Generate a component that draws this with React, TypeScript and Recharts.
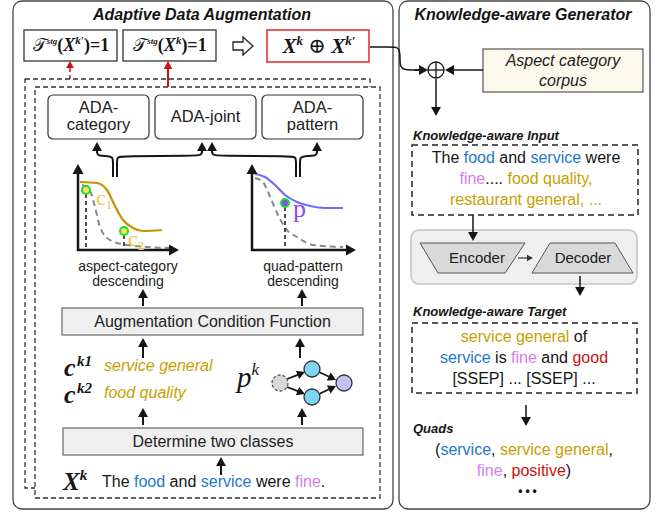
import { ComposedChart, XAxis, YAxis, Line, ReferenceArea, ReferenceLine, ReferenceDot } from "recharts";

const W = 656;
const H = 512;

const SANS = "'Liberation Sans', Arial, sans-serif";
const SERIF = "'Liberation Serif', 'DejaVu Serif', serif";

const INK = "#151515";
const BLUE = "#1f78cc";
const GOLD = "#c79f00";
const PINK = "#d67cf2";
const RED = "#cc1111";

// descending curves of the two mini charts (aspect-category / quad-pattern)
const categoryCurve = [
  { x: 80, y: 182 }, { x: 97, y: 183 }, { x: 107, y: 190 }, { x: 115, y: 206 },
  { x: 123, y: 220 }, { x: 133, y: 228 }, { x: 143, y: 231 }, { x: 162, y: 230 },
];
const categoryBase = [
  { x: 82, y: 185 }, { x: 90, y: 191 }, { x: 95, y: 207 }, { x: 100, y: 227 },
  { x: 110, y: 240 }, { x: 127, y: 245 }, { x: 170, y: 248 },
];
const patternCurve = [
  { x: 255, y: 174 }, { x: 265, y: 177 }, { x: 275, y: 185 }, { x: 285, y: 195 },
  { x: 297, y: 202 }, { x: 310, y: 206 }, { x: 325, y: 208 }, { x: 343, y: 208 },
];
const patternBase = [
  { x: 255, y: 178 }, { x: 263, y: 182 }, { x: 268, y: 192 }, { x: 277, y: 213 },
  { x: 287, y: 230 }, { x: 297, y: 237 }, { x: 313, y: 245 }, { x: 343, y: 247 },
];

// rounded connectors (drawn with a basis curve)
const connectors = [
  [{ x: 113, y: 177 }, { x: 113, y: 163 }, { x: 113, y: 157 }, { x: 108, y: 156 }, { x: 102, y: 156 }, { x: 97, y: 155 }, { x: 97, y: 150 }, { x: 97, y: 146 }],
  [{ x: 117, y: 177 }, { x: 117, y: 163 }, { x: 117, y: 157 }, { x: 122, y: 156 }, { x: 196, y: 156 }, { x: 202, y: 155 }, { x: 202, y: 150 }, { x: 202, y: 146 }],
  [{ x: 296, y: 177 }, { x: 296, y: 163 }, { x: 296, y: 157 }, { x: 291, y: 156 }, { x: 218, y: 156 }, { x: 212, y: 155 }, { x: 212, y: 150 }, { x: 212, y: 146 }],
  [{ x: 300, y: 177 }, { x: 300, y: 163 }, { x: 300, y: 157 }, { x: 305, y: 156 }, { x: 312, y: 156 }, { x: 317, y: 155 }, { x: 317, y: 150 }, { x: 317, y: 146 }],
  [{ x: 370, y: 47 }, { x: 392, y: 47 }, { x: 397, y: 47 }, { x: 400, y: 51 }, { x: 400, y: 60 }, { x: 400, y: 66 }, { x: 404, y: 70 }, { x: 412, y: 70 }, { x: 420, y: 70 }],
];

type Box = {
  x1: number; y1: number; x2: number; y2: number;
  rx?: number; fill?: string; stroke?: string; sw?: number; dash?: string; kind?: "enc" | "dec";
};

const boxes: Box[] = [
  { x1: 13, y1: 1, x2: 393, y2: 509, rx: 9, stroke: "#444", sw: 1.3 },
  { x1: 399, y1: 1, x2: 650, y2: 509, rx: 9, stroke: "#444", sw: 1.3 },
  { x1: 24, y1: 30, x2: 117, y2: 61, stroke: "#333", sw: 1.3 },
  { x1: 123, y1: 30, x2: 216, y2: 61, stroke: "#333", sw: 1.3 },
  { x1: 267, y1: 30, x2: 369, y2: 62, stroke: "#e02828", sw: 1.5 },
  { x1: 25, y1: 79, x2: 370, y2: 488, stroke: "#333", sw: 1.3, dash: "5 3" },
  { x1: 35, y1: 87, x2: 380, y2: 498, fill: "#fff", stroke: "#333", sw: 1.3, dash: "5 3" },
  { x1: 48, y1: 95, x2: 149, y2: 139, rx: 5, stroke: "#333", sw: 1.2 },
  { x1: 155, y1: 95, x2: 256, y2: 139, rx: 5, stroke: "#333", sw: 1.2 },
  { x1: 262, y1: 95, x2: 363, y2: 139, rx: 5, stroke: "#333", sw: 1.2 },
  { x1: 62, y1: 308, x2: 363, y2: 335, fill: "#efefef", stroke: "#666", sw: 1.2 },
  { x1: 63, y1: 428, x2: 363, y2: 455, fill: "#efefef", stroke: "#666", sw: 1.2 },
  { x1: 483, y1: 49, x2: 643, y2: 92, fill: "#fcf9ec", stroke: "#555", sw: 1.2 },
  { x1: 412, y1: 145, x2: 638, y2: 215, stroke: "#222", sw: 1.5, dash: "6 4" },
  { x1: 411, y1: 230, x2: 637, y2: 284, rx: 8, fill: "#efefef", stroke: "#c4c4c4", sw: 1.5 },
  { x1: 420, y1: 243, x2: 525, y2: 273, fill: "#d9d9d9", stroke: "#555", sw: 1, kind: "enc" },
  { x1: 532, y1: 243, x2: 633, y2: 273, fill: "#d9d9d9", stroke: "#555", sw: 1, kind: "dec" },
  { x1: 412, y1: 323, x2: 637, y2: 393, stroke: "#222", sw: 1.5, dash: "6 4" },
];

type Arrow = { x1: number; y1: number; x2: number; y2: number; c?: string; w?: number; head?: number; dash?: string };

const arrows: Arrow[] = [
  { x1: 70, y1: 79, x2: 70, y2: 61, c: RED, w: 1.5, head: 7, dash: "4 3" },
  { x1: 168, y1: 87, x2: 168, y2: 61, c: RED, w: 2, head: 8 },
  { x1: 97, y1: 153, x2: 97, y2: 142 },
  { x1: 202, y1: 153, x2: 202, y2: 142 },
  { x1: 212, y1: 153, x2: 212, y2: 142 },
  { x1: 317, y1: 153, x2: 317, y2: 142 },
  { x1: 78, y1: 251, x2: 78, y2: 164, w: 2.5, head: 10 },
  { x1: 77, y1: 250, x2: 179, y2: 250, w: 2.5, head: 10 },
  { x1: 252, y1: 251, x2: 252, y2: 164, w: 2.5, head: 10 },
  { x1: 251, y1: 250, x2: 356, y2: 250, w: 2.5, head: 10 },
  { x1: 143, y1: 306, x2: 143, y2: 289 },
  { x1: 302, y1: 306, x2: 302, y2: 289 },
  { x1: 143, y1: 358, x2: 143, y2: 338 },
  { x1: 300, y1: 358, x2: 300, y2: 338 },
  { x1: 143, y1: 425, x2: 143, y2: 408 },
  { x1: 302, y1: 425, x2: 302, y2: 408 },
  { x1: 221, y1: 475, x2: 221, y2: 457 },
  { x1: 287, y1: 379, x2: 305, y2: 372, w: 1.8, head: 8 },
  { x1: 287, y1: 387, x2: 305, y2: 394, w: 1.8, head: 8 },
  { x1: 319, y1: 372, x2: 336, y2: 380, w: 1.8, head: 8 },
  { x1: 319, y1: 394, x2: 336, y2: 386, w: 1.8, head: 8 },
  { x1: 414, y1: 70, x2: 428, y2: 70, w: 1.5 },
  { x1: 483, y1: 70, x2: 445, y2: 70, w: 1.5 },
  { x1: 436, y1: 79, x2: 436, y2: 116, w: 1.5 },
  { x1: 473, y1: 215, x2: 473, y2: 241, w: 1.5 },
  { x1: 518, y1: 258, x2: 533, y2: 258, w: 1.2, head: 6, c: "#333" },
  { x1: 580, y1: 276, x2: 580, y2: 296, w: 1.5 },
  { x1: 526, y1: 405, x2: 526, y2: 426, w: 1.5 },
  // dashed drop lines (no head)
  { x1: 86, y1: 194, x2: 86, y2: 250, w: 1.5, head: 0, dash: "4 3" },
  { x1: 124, y1: 235, x2: 124, y2: 250, w: 1.5, head: 0, dash: "4 3" },
  { x1: 285, y1: 207, x2: 285, y2: 250, w: 1.5, head: 0, dash: "4 3" },
];

type Dot = { x: number; y: number; r: number; fill: string; stroke: string; sw?: number; dash?: string };

const dots: Dot[] = [
  { x: 86, y: 190, r: 4, fill: "#f2e56a", stroke: "#22dd22", sw: 2 },
  { x: 124, y: 231, r: 4, fill: "#f2e56a", stroke: "#22dd22", sw: 2 },
  { x: 285, y: 203, r: 4, fill: "#8050ee", stroke: "#22dd22", sw: 2 },
  { x: 280, y: 383, r: 8, fill: "#d8d8d8", stroke: "#555", sw: 1.3, dash: "3 2" },
  { x: 312, y: 369, r: 8, fill: "#7fd5f3", stroke: "#333", sw: 1.3 },
  { x: 312, y: 397, r: 8, fill: "#7fd5f3", stroke: "#333", sw: 1.3 },
  { x: 344, y: 383, r: 8, fill: "#c2c2f8", stroke: "#333", sw: 1.3 },
];

type Run = { t: string; c?: string; size?: number; rise?: number; it?: boolean; b?: boolean; f?: string };
type Label = { x: number; y: number; size: number; runs: Run[]; anchor?: "start" | "middle" | "end"; it?: boolean; b?: boolean; f?: string; c?: string; ls?: number };

const labels: Label[] = [
  { x: 202, y: 20, size: 16, b: true, it: true, anchor: "middle", runs: [{ t: "Adaptive Data Augmentation" }] },
  { x: 523, y: 20, size: 16, b: true, it: true, anchor: "middle", runs: [{ t: "Knowledge-aware Generator" }] },
  {
    x: 71, y: 51, size: 18, f: SERIF, b: true, anchor: "middle",
    runs: [{ t: "𝒯", b: false }, { t: "stg", size: 9, rise: 7, it: true }, { t: "(", rise: 0 }, { t: "X", it: true }, { t: "k′", it: true, size: 11, rise: 7 }, { t: ")=1", rise: 0 }],
  },
  {
    x: 170, y: 51, size: 18, f: SERIF, b: true, anchor: "middle",
    runs: [{ t: "𝒯", b: false }, { t: "stg", size: 9, rise: 7, it: true }, { t: "(", rise: 0 }, { t: "X", it: true }, { t: "k", it: true, size: 11, rise: 7 }, { t: ")=1", rise: 0 }],
  },
  {
    x: 319, y: 53, size: 21, f: SERIF, b: true, anchor: "middle",
    runs: [{ t: "X", it: true }, { t: "k", it: true, size: 13, rise: 8 }, { t: " ⊕ ", rise: 0, b: false }, { t: "X", it: true }, { t: "k′", it: true, size: 13, rise: 8 }],
  },
  { x: 98.5, y: 113, size: 16.5, anchor: "middle", c: "#222", runs: [{ t: "ADA-" }] },
  { x: 98.5, y: 130, size: 16.5, anchor: "middle", c: "#222", runs: [{ t: "category" }] },
  { x: 205.5, y: 122, size: 16.5, anchor: "middle", c: "#222", runs: [{ t: "ADA-joint" }] },
  { x: 312.5, y: 113, size: 16.5, anchor: "middle", c: "#222", runs: [{ t: "ADA-" }] },
  { x: 312.5, y: 130, size: 16.5, anchor: "middle", c: "#222", runs: [{ t: "pattern" }] },
  { x: 96, y: 205, size: 22, f: SERIF, c: "#f5c640", runs: [{ t: "c" }, { t: "1", size: 13, rise: -4 }] },
  { x: 128, y: 246, size: 22, f: SERIF, c: "#f5c640", runs: [{ t: "c" }, { t: "2", size: 13, rise: -4 }] },
  { x: 293, y: 217, size: 26, f: SERIF, c: "#8a4cf0", runs: [{ t: "p" }] },
  { x: 128, y: 271, size: 14, anchor: "middle", c: "#222", runs: [{ t: "aspect-category" }] },
  { x: 128, y: 286, size: 14, anchor: "middle", c: "#222", runs: [{ t: "descending" }] },
  { x: 303, y: 271, size: 14, anchor: "middle", c: "#222", runs: [{ t: "quad-pattern" }] },
  { x: 303, y: 286, size: 14, anchor: "middle", c: "#222", runs: [{ t: "descending" }] },
  { x: 212.5, y: 327, size: 16, anchor: "middle", c: "#222", runs: [{ t: "Augmentation Condition Function" }] },
  { x: 64, y: 376, size: 26, f: SERIF, it: true, b: true, runs: [{ t: "c" }] },
  { x: 77, y: 366, size: 15, f: SERIF, it: true, b: true, runs: [{ t: "k1" }] },
  { x: 64, y: 403, size: 26, f: SERIF, it: true, b: true, runs: [{ t: "c" }] },
  { x: 77, y: 393, size: 15, f: SERIF, it: true, b: true, runs: [{ t: "k2" }] },
  { x: 104, y: 371, size: 16, it: true, c: GOLD, runs: [{ t: "service general" }] },
  { x: 104, y: 398, size: 16, it: true, c: GOLD, runs: [{ t: "food quality" }] },
  { x: 237, y: 387, size: 29, f: SERIF, it: true, runs: [{ t: "p" }, { t: "k", size: 17, rise: 12 }] },
  { x: 213, y: 447, size: 16, anchor: "middle", c: "#222", runs: [{ t: "Determine two classes" }] },
  { x: 63, y: 490, size: 25, f: SERIF, it: true, b: true, runs: [{ t: "X" }, { t: "k", size: 15, rise: 10 }] },
  {
    x: 102, y: 487, size: 16,
    runs: [{ t: "The " }, { t: "food", c: BLUE }, { t: " and " }, { t: "service", c: BLUE }, { t: " were " }, { t: "fine", c: PINK }, { t: "." }],
  },
  { x: 563, y: 66, size: 16, it: true, anchor: "middle", c: "#222", runs: [{ t: "Aspect category" }] },
  { x: 563, y: 86, size: 16, it: true, anchor: "middle", c: "#222", runs: [{ t: "corpus" }] },
  { x: 413, y: 140, size: 13, b: true, it: true, runs: [{ t: "Knowledge-aware Input" }] },
  {
    x: 526, y: 163, size: 16, anchor: "middle",
    runs: [{ t: "The " }, { t: "food", c: BLUE }, { t: " and " }, { t: "service", c: BLUE }, { t: " were" }],
  },
  { x: 526, y: 184, size: 16, anchor: "middle", runs: [{ t: "fine", c: PINK }, { t: "...." }, { t: " food quality,", c: GOLD }] },
  { x: 526, y: 205, size: 16, anchor: "middle", c: GOLD, runs: [{ t: "restaurant general, ..." }] },
  { x: 477, y: 263, size: 15, anchor: "middle", c: "#222", runs: [{ t: "Encoder" }] },
  { x: 583, y: 263, size: 15, anchor: "middle", c: "#222", runs: [{ t: "Decoder" }] },
  { x: 413, y: 316, size: 13, b: true, it: true, runs: [{ t: "Knowledge-aware Target" }] },
  { x: 524, y: 342, size: 16, anchor: "middle", runs: [{ t: "service general", c: GOLD }, { t: " of" }] },
  {
    x: 524, y: 363, size: 16, anchor: "middle",
    runs: [{ t: "service", c: BLUE }, { t: " is " }, { t: "fine", c: PINK }, { t: " and " }, { t: "good", c: RED }],
  },
  { x: 524, y: 384, size: 16, anchor: "middle", runs: [{ t: "[SSEP] ... [SSEP] ..." }] },
  { x: 413, y: 433, size: 13, b: true, it: true, runs: [{ t: "Quads" }] },
  {
    x: 524, y: 455, size: 16, anchor: "middle",
    runs: [{ t: "(" }, { t: "service", c: BLUE }, { t: ", " }, { t: "service general", c: GOLD }, { t: "," }],
  },
  { x: 524, y: 476, size: 16, anchor: "middle", runs: [{ t: "fine", c: PINK }, { t: ", " }, { t: "positive", c: RED }, { t: ")" }] },
  { x: 529, y: 495, size: 12, b: true, anchor: "middle", ls: 3, runs: [{ t: "•••" }] },
];

const boxShape = (b: Box) => (p: any) => {
  const { x, y, width: w, height: h } = p;
  const common = { fill: b.fill ?? "none", stroke: b.stroke ?? "#333", strokeWidth: b.sw ?? 1.2, strokeDasharray: b.dash };
  if (b.kind === "enc") {
    return <polygon points={`${x},${y} ${x + w},${y} ${x + w - 20},${y + h} ${x + 18},${y + h}`} {...common} />;
  }
  if (b.kind === "dec") {
    return <polygon points={`${x + 18},${y} ${x + w - 18},${y} ${x + w},${y + h} ${x},${y + h}`} {...common} />;
  }
  return <rect x={x} y={y} width={w} height={h} rx={b.rx ?? 0} {...common} />;
};

const arrowShape = (a: Arrow) => (p: any) => {
  const { x1, y1, x2, y2 } = p;
  const head = a.head ?? 9;
  const c = a.c ?? INK;
  const w = a.w ?? 2;
  const dx = x2 - x1;
  const dy = y2 - y1;
  const len = Math.hypot(dx, dy) || 1;
  const ux = dx / len;
  const uy = dy / len;
  const bx = x2 - ux * head;
  const by = y2 - uy * head;
  const hw = head * 0.55;
  return (
    <g>
      <line x1={x1} y1={y1} x2={head ? bx + ux : x2} y2={head ? by + uy : y2} stroke={c} strokeWidth={w} strokeDasharray={a.dash} />
      {head > 0 && (
        <polygon points={`${x2},${y2} ${bx - uy * hw},${by + ux * hw} ${bx + uy * hw},${by - ux * hw}`} fill={c} />
      )}
    </g>
  );
};

const dotShape = (d: Dot) => (p: any) => (
  <circle cx={p.cx} cy={p.cy} r={d.r} fill={d.fill} stroke={d.stroke} strokeWidth={d.sw ?? 1} strokeDasharray={d.dash} />
);

const labelShape = (l: Label) => (p: any) => {
  let prev = 0;
  return (
    <text
      x={p.cx}
      y={p.cy}
      textAnchor={l.anchor ?? "start"}
      fontSize={l.size}
      fontFamily={l.f ?? SANS}
      fontStyle={l.it ? "italic" : "normal"}
      fontWeight={l.b ? "bold" : "normal"}
      fill={l.c ?? INK}
      letterSpacing={l.ls}
      style={{ whiteSpace: "pre" }}
    >
      {l.runs.map((r, i) => {
        const rise = r.rise ?? prev;
        const dy = prev - rise;
        prev = rise;
        return (
          <tspan
            key={i}
            dy={dy !== 0 ? dy : undefined}
            fill={r.c}
            fontSize={r.size}
            fontFamily={r.f}
            fontStyle={r.it === undefined ? undefined : r.it ? "italic" : "normal"}
            fontWeight={r.b === undefined ? undefined : r.b ? "bold" : "normal"}
          >
            {r.t}
          </tspan>
        );
      })}
    </text>
  );
};

const hollowArrow = (p: any) => {
  const { cx: x, cy: y } = p;
  return (
    <polygon
      points={`${x - 10},${y - 4} ${x},${y - 4} ${x},${y - 9} ${x + 10},${y} ${x},${y + 9} ${x},${y + 4} ${x - 10},${y + 4}`}
      fill="#fff"
      stroke="#222"
      strokeWidth={1.3}
    />
  );
};

const oplus = (p: any) => {
  const { cx: x, cy: y } = p;
  return (
    <g stroke="#111" strokeWidth={1.3} fill="#fff">
      <circle cx={x} cy={y} r={8} />
      <line x1={x - 8} y1={y} x2={x + 8} y2={y} />
      <line x1={x} y1={y - 8} x2={x} y2={y + 8} />
    </g>
  );
};

const lineCommon = { dataKey: "y", dot: false, activeDot: false, legendType: "none" as const, isAnimationActive: false };

export default function App() {
  return (
    <div style={{ position: "absolute", left: 0, top: 0, width: W, height: H, background: "#fff" }}>
      <ComposedChart width={W} height={H} margin={{ top: 0, right: 0, bottom: 0, left: 0 }}>
        <XAxis type="number" dataKey="x" domain={[0, W]} allowDataOverflow hide />
        <YAxis type="number" dataKey="y" domain={[0, H]} reversed allowDataOverflow hide />
        {boxes.map((b, i) => (
          <ReferenceArea key={`b${i}`} x1={b.x1} x2={b.x2} y1={b.y1} y2={b.y2} ifOverflow="visible" shape={boxShape(b)} />
        ))}
        <Line {...lineCommon} data={categoryBase} type="monotone" stroke="#8a8a8a" strokeWidth={2} strokeDasharray="6 4" />
        <Line {...lineCommon} data={categoryCurve} type="monotone" stroke="#c39300" strokeWidth={2.2} />
        <Line {...lineCommon} data={patternBase} type="monotone" stroke="#8a8a8a" strokeWidth={2} strokeDasharray="6 4" />
        <Line {...lineCommon} data={patternCurve} type="monotone" stroke="#6f6ff6" strokeWidth={2.2} />
        {connectors.map((c, i) => (
          <Line key={`c${i}`} {...lineCommon} data={c} type="basis" stroke={INK} strokeWidth={i === 4 ? 1.5 : 2} />
        ))}
        {arrows.map((a, i) => (
          <ReferenceLine key={`a${i}`} segment={[{ x: a.x1, y: a.y1 }, { x: a.x2, y: a.y2 }]} ifOverflow="visible" shape={arrowShape(a)} />
        ))}
        {dots.map((d, i) => (
          <ReferenceDot key={`d${i}`} x={d.x} y={d.y} r={d.r} ifOverflow="visible" shape={dotShape(d)} />
        ))}
        <ReferenceDot x={243} y={46} r={1} ifOverflow="visible" shape={hollowArrow} />
        <ReferenceDot x={436} y={70} r={8} ifOverflow="visible" shape={oplus} />
        {labels.map((l, i) => (
          <ReferenceDot key={`l${i}`} x={l.x} y={l.y} r={1} ifOverflow="visible" shape={labelShape(l)} />
        ))}
      </ComposedChart>
    </div>
  );
}
